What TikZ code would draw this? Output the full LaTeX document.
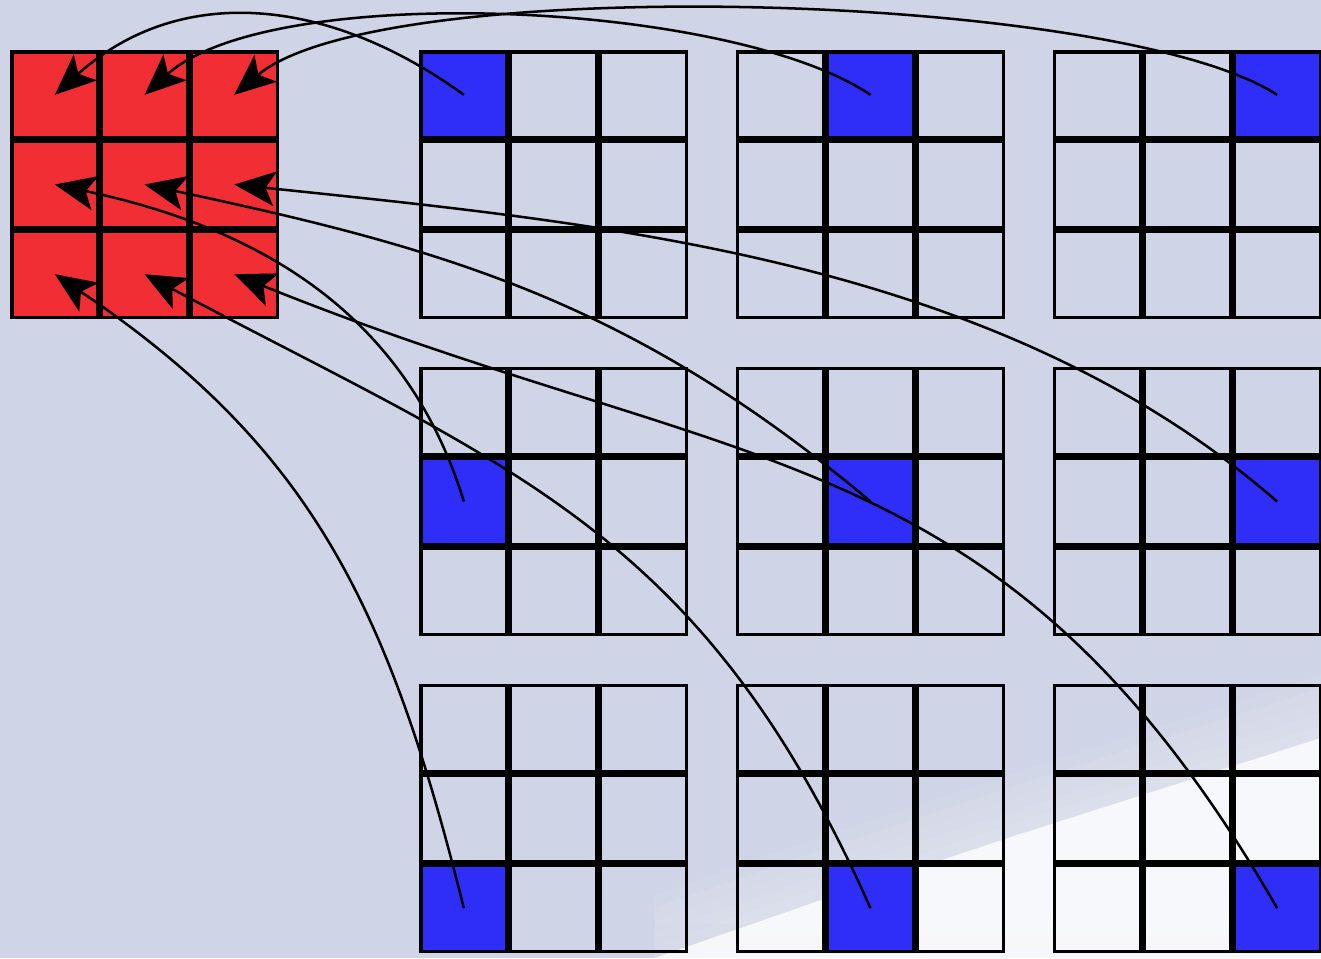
\documentclass[tikz,border=0pt]{standalone}
\usepackage{tikz}
\usetikzlibrary{arrows.meta}
\usetikzlibrary{calc}

\definecolor{slidebg}{RGB}{207,213,230}
\definecolor{cellred}{RGB}{240,46,52}
\definecolor{cellblue}{RGB}{46,46,248}

\begin{document}
\begin{tikzpicture}[
    cell/.style={rectangle, draw=black, line width=1.1pt, minimum size=0.961cm, inner sep=0pt, outer sep=0pt},
    link/.style={line width=0.8pt, -{Stealth[length=13pt, width=11pt, inset=3pt]}}]

        % Slide background
        \useasboundingbox (0,0) rectangle (14.732,-10.684);
        \clip (0,0) rectangle (14.732,-10.684);
        \fill[slidebg] (0,0) rectangle (14.732,-10.684);

        % Light glare in the lower right corner
        \foreach \k in {1,...,5} {
          \fill[white, opacity=0.07, yshift=\k*0.14cm] (7.3,-10.684) -- (9.15,-10.04) -- (11.35,-9.31) -- (14.732,-8.23) -- (14.732,-11) -- (7.3,-11) -- cycle;
        }
        \fill[white, opacity=0.8] (7.3,-10.684) -- (9.15,-10.04) -- (11.35,-9.31) -- (14.732,-8.23) -- (14.732,-10.684) -- cycle;

        % Distance between grids
        \def\gpitch{3.535}

        % Left edge of the first blue grid
        \def\gleft{4.673}

        % Top edge of the grids
        \def\gtop{0.558}

        % Red grid
        \foreach \i in {1,2,3} {
          \foreach \j in {1,2,3} {
            \node[cell, fill=cellred] (r\i\j) at ({0.112 + \j - 0.5}, {-\gtop - \i + 0.5}) {};
          }
        }

        % Nine grids, one blue cell each
        \foreach \r in {1,2,3} {
          \foreach \c in {1,2,3} {
            \foreach \i in {1,2,3} {
              \foreach \j in {1,2,3} {
                \edef\cellcol{\ifnum\i=\r \ifnum\j=\c cellblue\else none\fi\else none\fi}
                \node[cell, fill=\cellcol] (g\r\c-\i\j) at ({\gleft + (\c-1)*\gpitch + \j - 0.5}, {-\gtop - (\r-1)*\gpitch - \i + 0.5}) {};
              }
            }
          }
        }

        % Curves from each blue cell back to the red grid
        \foreach \r/\c/\o/\n/\l in {1/1/144/42/1.05, 1/2/146/42/0.6, 1/3/147/40/0.47,
                                     2/1/107/-12/1, 2/2/140/-12/1, 2/3/139/-6/0.87,
                                     3/1/104/-34/1.05, 3/2/114/-28/1.1, 3/3/120/-22/1.15} {
          \draw[link] (g\r\c-\r\c.center) to[out=\o, in=\n, looseness=\l] (r\r\c.center);
        }

      \end{tikzpicture}
\end{document}
